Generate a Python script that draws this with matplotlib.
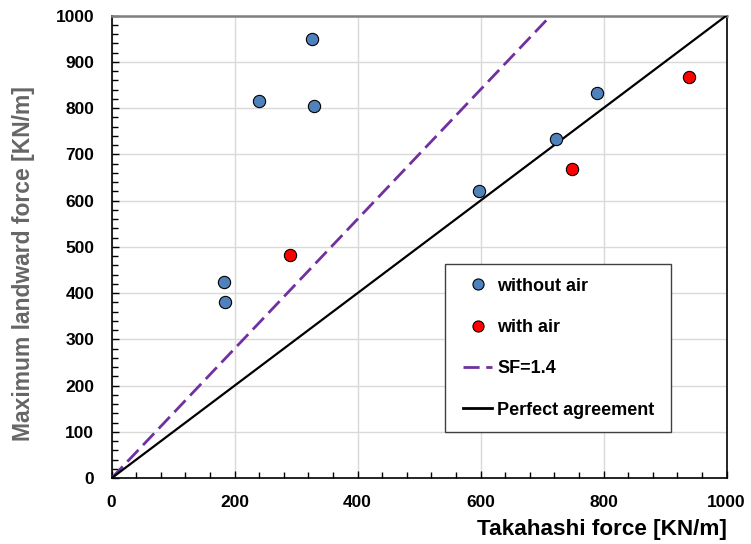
import matplotlib
matplotlib.use("Agg")
import matplotlib.pyplot as plt
from matplotlib.ticker import MultipleLocator
from matplotlib.lines import Line2D
from matplotlib.legend_handler import HandlerLine2D

plt.rcParams['font.family'] = ['Liberation Sans', 'DejaVu Sans']

# Measured forces [KN/m]
takahashi_no_air = [183, 185, 240, 326, 329, 597, 723, 790]
landward_no_air = [424, 380, 815, 949, 804, 621, 732, 833]
takahashi_air = [290, 749, 939]
landward_air = [483, 669, 868]

safety_factor = 1.4
axis_max = 1000


class IndentedHandler(HandlerLine2D):
    """Legend line handler that leaves a blank lead-in before the sample."""

    def __init__(self, indent, **kw):
        super().__init__(**kw)
        self.indent = indent

    def create_artists(self, legend, orig_handle, xdescent, ydescent,
                       width, height, fontsize, trans):
        shift = self.indent * fontsize
        return super().create_artists(legend, orig_handle, xdescent - shift,
                                      ydescent, width - shift, height,
                                      fontsize, trans)


fig = plt.figure(figsize=(7.51, 5.44), dpi=100)
ax = fig.add_axes([0.1487, 0.1211, 0.9674 - 0.1487, 0.9715 - 0.1211])

ax.set_xlim(0, axis_max)
ax.set_ylim(0, axis_max)

ax.xaxis.set_major_locator(MultipleLocator(200))
ax.xaxis.set_minor_locator(MultipleLocator(40))
ax.yaxis.set_major_locator(MultipleLocator(100))
ax.yaxis.set_minor_locator(MultipleLocator(20))
ax.grid(True, which='major', color='#d9d9d9', linewidth=1.0, zorder=0)
ax.set_axisbelow(True)

ax.tick_params(which='both', direction='in', top=False, right=False,
               labelsize=12.5, width=1.0, color='black')
ax.tick_params(axis='x', which='major', pad=12.5)
ax.tick_params(axis='y', which='major', pad=12.5)
ax.tick_params(which='major', length=5)
ax.tick_params(which='minor', length=4)
for lbl in ax.get_xticklabels() + ax.get_yticklabels():
    lbl.set_fontweight('bold')

for side in ('left', 'bottom', 'right'):
    ax.spines[side].set_color('black')
    ax.spines[side].set_linewidth(1.2)
ax.spines['top'].set_color('#808080')
ax.spines['top'].set_linewidth(1.8)

# Reference lines: safety factor and 1:1 agreement
sf_dashes = (5.8, 2.4)
ax.plot([0, axis_max / safety_factor], [0, axis_max], color='#7030A0',
        linewidth=2.0, dashes=sf_dashes, zorder=3)
ax.plot([0, axis_max], [0, axis_max], color='black', linewidth=1.6, zorder=3)

ax.scatter(takahashi_no_air, landward_no_air, s=78, color='#4F81BD',
           edgecolors='black', linewidths=0.8, zorder=5, clip_on=False)
ax.scatter(takahashi_air, landward_air, s=78, color='#FF0000',
           edgecolors='black', linewidths=0.8, zorder=5, clip_on=False)

ax.set_xlabel('Takahashi force [KN/m]', fontsize=16.2, fontweight='bold',
              color='black')
ax.xaxis.label.set_horizontalalignment('right')
ax.xaxis.set_label_coords(1.0, -0.089)
ax.set_ylabel('Maximum landward force [KN/m]', fontsize=16.5, fontweight='bold',
              color='#666666')
ax.yaxis.set_label_coords(-0.124, 0.464)

handles = [
    Line2D([], [], marker='o', linestyle='none', markersize=8,
           markerfacecolor='#4F81BD', markeredgecolor='black', markeredgewidth=0.8),
    Line2D([], [], marker='o', linestyle='none', markersize=8,
           markerfacecolor='#FF0000', markeredgecolor='black', markeredgewidth=0.8),
    Line2D([], [], color='#7030A0', linewidth=2.0, dashes=sf_dashes),
    Line2D([], [], color='black', linewidth=2.0),
]
labels = ['without air', 'with air', 'SF=1.4', 'Perfect agreement']
indent = IndentedHandler(0.25)
legend_box = (445 / 751, 1 - 430 / 544, 226 / 751, 166 / 544)
leg = ax.legend(handles, labels, loc='upper left', mode='expand',
                bbox_to_anchor=legend_box,
                bbox_transform=fig.transFigure,
                handler_map={h: indent for h in handles},
                prop={'weight': 'bold', 'size': 13},
                frameon=True, fancybox=False, edgecolor='#404040',
                framealpha=1, labelspacing=1.35, handlelength=1.85,
                borderpad=0.75, handletextpad=0.3, borderaxespad=0)
leg.get_frame().set_linewidth(1.0)

fig.savefig('out.png', dpi=100)
